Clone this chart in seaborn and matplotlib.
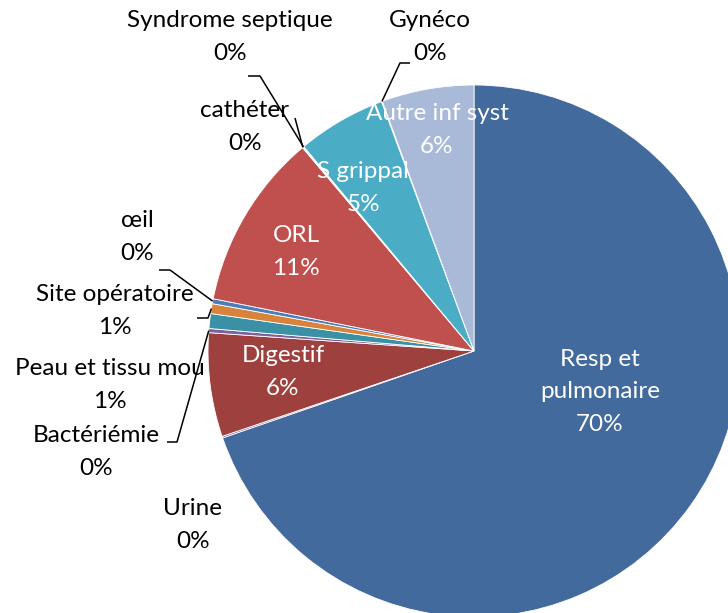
import numpy as np
import matplotlib
matplotlib.use("Agg")
import matplotlib.pyplot as plt
import seaborn as sns

# data (share of infections, %), clockwise from 12 o'clock
categories = ['Resp et pulmonaire', 'Urine', 'Digestif', 'Bactériémie', 'Peau et tissu mou',
              'Site opératoire', 'œil', 'ORL', 'cathéter', 'Syndrome septique', 'S grippal',
              'Gynéco', 'Autre inf syst']
shares = [69.7, 0.1, 6.3, 0.25, 0.9, 0.6, 0.3, 10.7, 0.05, 0.05, 5.4, 0.05, 5.6]
colors = ['#436A9D', '#8064A2', '#9E413E', '#7D609E', '#3A91A5', '#D9823B', '#4A7EBB',
          '#C0504D', '#9BBB59', '#F79646', '#4BACC6', '#2C4D75', '#A9B9D8']

# display labels (line breaks as in the original)
display = {'Resp et pulmonaire': 'Resp et\npulmonaire'}

sns.set_theme(style="white")
plt.rcParams['font.family'] = ['Lato', 'DejaVu Sans']

W, H = 728, 613
CX, CY, R = 474, 351, 266


def to_data(px, py):
    return (px - CX) / R, (CY - py) / R


# label centres in pixels
label_pos = {
    'Resp et pulmonaire': (600, 392), 'Digestif': (283, 372), 'ORL': (296, 252),
    'S grippal': (363, 188), 'Autre inf syst': (437, 130),
    'Syndrome septique': (230, 37), 'Gynéco': (430, 37), 'cathéter': (245, 127),
    'œil': (137, 237), 'Site opératoire': (115, 311), 'Peau et tissu mou': (110, 385),
    'Bactériémie': (96, 452), 'Urine': (193, 525),
}
inside = ['Resp et pulmonaire', 'Digestif', 'ORL', 'S grippal', 'Autre inf syst']

# leader lines: start and knee in pixels, end on the slice edge
leaders = {
    'Syndrome septique': [(248, 76), (260, 76)],
    'cathéter': [(295, 118)],
    'Gynéco': [(410, 63), (400, 63)],
    'œil': [(159, 270), (170, 270)],
    'Site opératoire': [(197, 318), (208, 318)],
    'Bactériémie': [(167, 442), (177, 442)],
}

fig = plt.figure(figsize=(W / 100, H / 100), dpi=100)
ax = fig.add_axes([0, 0, 1, 1])

wedges, _ = ax.pie(shares, colors=colors, startangle=90, counterclock=False, radius=1,
                   wedgeprops=dict(edgecolor='white', linewidth=0.6))

total = sum(shares)
for name, val, w in zip(categories, shares, wedges):
    pct = f"{round(val / total * 100)}%"
    x, y = to_data(*label_pos[name])
    col = 'white' if name in inside else 'black'
    ax.text(x, y, f"{display.get(name, name)}\n{pct}", ha='center', va='center',
            color=col, fontsize=17.5, linespacing=1.7)
    if name in leaders:
        mid = np.deg2rad((w.theta1 + w.theta2) / 2)
        pts = [to_data(*p) for p in leaders[name]] + [(np.cos(mid), np.sin(mid))]
        xs, ys = zip(*pts)
        ax.plot(xs, ys, color='black', lw=1.1, solid_capstyle='butt')

ax.set_xlim(-CX / R, (W - CX) / R)
ax.set_ylim(-(H - CY) / R, CY / R)
ax.set_aspect('auto')
ax.axis('off')

fig.savefig('out.png', dpi=100)
